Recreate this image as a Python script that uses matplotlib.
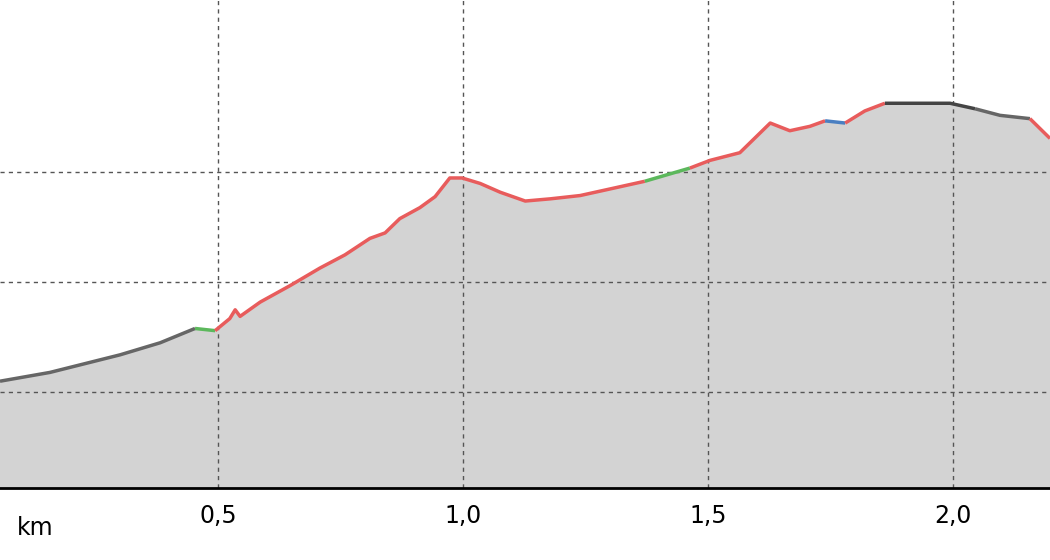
import matplotlib.pyplot as plt

km = [0.055, 0.157, 0.300, 0.382, 0.453, 0.494, 0.524, 0.535, 0.545, 0.586, 0.647, 0.708,
      0.759, 0.810, 0.841, 0.871, 0.912, 0.943, 0.973, 0.998, 1.035, 1.076, 1.127, 1.178,
      1.239, 1.300, 1.371, 1.463, 1.504, 1.565, 1.627, 1.667, 1.708, 1.739, 1.780, 1.820,
      1.861, 1.912, 1.994, 2.045, 2.096, 2.157, 2.198]
elev = [101.0, 101.8, 103.4, 104.5, 105.8, 105.6, 106.7, 107.5, 106.9, 108.2, 109.7, 111.3,
        112.5, 114.0, 114.5, 115.8, 116.8, 117.8, 119.5, 119.5, 119.0, 118.2, 117.4, 117.6,
        117.9, 118.5, 119.2, 120.4, 121.1, 121.8, 124.5, 123.8, 124.2, 124.7, 124.5, 125.6,
        126.3, 126.3, 126.3, 125.8, 125.2, 124.9, 123.1]
# (start index, end index, colour) of surface segments
segments = [(0, 4, '#666666'), (4, 5, '#5cb85c'), (5, 26, '#e85c5c'), (26, 27, '#5cb85c'),
            (27, 33, '#e85c5c'), (33, 34, '#4a7fc1'), (34, 36, '#e85c5c'),
            (36, 39, '#444444'), (39, 41, '#666666'), (41, 42, '#e85c5c')]
xticks = [0.5, 1.0, 1.5, 2.0]
xtick_labels = ['0,5', '1,0', '1,5', '2,0']
ygrid = [100, 110, 120]

fig = plt.figure(figsize=(10.5, 5.6), dpi=100)
ax = fig.add_axes([0, 0.129, 1, 0.871])
ax.fill_between(km, elev, 80, color='#d3d3d3', zorder=1)
for a, b, c in segments:
    ax.plot(km[a:b + 1], elev[a:b + 1], color=c, lw=2.5, zorder=3, solid_capstyle='butt')
ax.set_xlim(0.055, 2.198)
ax.set_ylim(91.3, 135.7)
for y in ygrid:
    ax.axhline(y, color='#555555', ls='--', lw=1, dashes=(3, 3), zorder=2)
for x in xticks:
    ax.axvline(x, color='#555555', ls='--', lw=1, dashes=(3, 3), zorder=2)
ax.set_xticks(xticks)
ax.set_xticklabels(xtick_labels, fontsize=17)
ax.tick_params(axis='x', length=0, pad=12)
ax.set_yticks([])
for s in ['top', 'left', 'right']:
    ax.spines[s].set_visible(False)
ax.spines['bottom'].set_linewidth(2)
fig.text(35 / 1050, 1 - 528 / 560, 'km', fontsize=17, ha='center', va='center')
fig.savefig('out.png')
